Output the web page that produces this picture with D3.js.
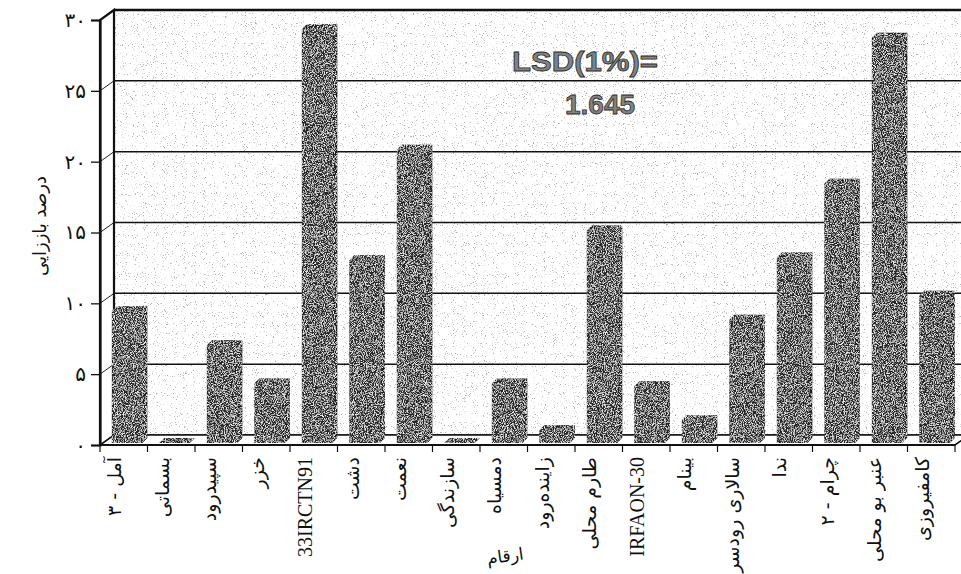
<!DOCTYPE html>
<html>
<head>
<meta charset="utf-8">
<script src="https://cdn.jsdelivr.net/npm/d3@7"></script>
<style>
  body { margin: 0; background: #fff; }
  svg { display: block; }
</style>
</head>
<body>
<svg id="chart" width="961" height="574"></svg>
<script>
// varieties (left to right)
var varieties = ['آمل - ۳', 'بسماتی', 'سپیدرود', 'خزر', '33IRCTN91', 'دشت', 'نعمت', 'سازندگی', 'دمسیاه',
  'زاینده‌رود', 'طارم محلی', 'IRFAON-30', 'بینام', 'سالاری رودسر', 'ندا', 'چرام - ۲', 'عنبر بو محلی', 'کامفیروزی'];

// regeneration percent
var regen = [9.3, 0, 6.9, 4.2, 29.2, 12.9, 20.7, 0, 4.2, 0.9, 15.0, 4.0, 1.6, 8.7, 13.1, 18.3, 28.6, 10.4];

var yTicks = [0, 5, 10, 15, 20, 25, 30];
var yTickLabels = ['۰', '۵', '۱۰', '۱۵', '۲۰', '۲۵', '۳۰'];

var yTitle = 'درصد باززایی';
var xTitle = 'ارقام';
var lsdLine1 = 'LSD(1%)=';
var lsdLine2 = '1.645';

var svg = d3.select('#chart');
var W = 961, H = 574;

// depth of the 3d box (back wall offset)
var dX = 14, dY = -10;
// depth of each bar
var bX = 5, bY = -5;

var x = d3.scaleBand().domain(varieties).range([100, 955]).padding(0);
var y = d3.scaleLinear().domain([0, 30]).range([445, 20]);
var step = x.step();

var defs = svg.append('defs');

// light stipple for the back wall
var stip = defs.append('filter').attr('id', 'stip')
  .attr('x', 0).attr('y', 0).attr('width', 1).attr('height', 1);
stip.append('feTurbulence').attr('type', 'fractalNoise').attr('baseFrequency', 0.9)
  .attr('numOctaves', 2).attr('seed', 7).attr('result', 't');
stip.append('feColorMatrix').attr('in', 't').attr('type', 'matrix')
  .attr('values', '0 0 0 0 0.45  0 0 0 0 0.45  0 0 0 0 0.45  9 0 0 0 -5.75');

// grainy texture for bars
var grain = defs.append('filter').attr('id', 'grain')
  .attr('x', -0.05).attr('y', -0.05).attr('width', 1.1).attr('height', 1.1);
grain.append('feTurbulence').attr('type', 'fractalNoise').attr('baseFrequency', 1.1)
  .attr('numOctaves', 2).attr('seed', 3).attr('result', 't');
grain.append('feColorMatrix').attr('in', 't').attr('type', 'matrix')
  .attr('values', '3.6 0 0 0 -1.6  3.6 0 0 0 -1.6  3.6 0 0 0 -1.6  0 0 0 0 0.85')
  .attr('result', 'g');
grain.append('feComposite').attr('in', 'g').attr('in2', 'SourceAlpha')
  .attr('operator', 'in').attr('result', 'gc');
var mrg = grain.append('feMerge');
mrg.append('feMergeNode').attr('in', 'SourceGraphic');
mrg.append('feMergeNode').attr('in', 'gc');

var x0 = x.range()[0], x1 = x.range()[1];

// back wall
svg.append('rect')
  .attr('x', x0 + dX).attr('y', y(30) + dY)
  .attr('width', W - x0 - dX).attr('height', y(0) - y(30))
  .attr('fill', '#fff');
svg.append('rect')
  .attr('x', x0 + dX).attr('y', y(30) + dY)
  .attr('width', W - x0 - dX).attr('height', y(0) - y(30))
  .attr('fill', '#fff')
  .attr('filter', 'url(#stip)');

// gridlines on back wall + diagonal ones on side wall
var grid = svg.append('g');
grid.selectAll('line.back')
  .data(yTicks)
  .enter()
  .append('line')
  .attr('x1', x0 + dX).attr('x2', W)
  .attr('y1', function(d){ return y(d) + dY; })
  .attr('y2', function(d){ return y(d) + dY; })
  .attr('stroke', '#111')
  .attr('stroke-width', function(d){ return d === 30 ? 2.6 : 1.5; });
grid.selectAll('line.side')
  .data(yTicks)
  .enter()
  .append('line')
  .attr('x1', x0).attr('x2', x0 + dX)
  .attr('y1', function(d){ return y(d); })
  .attr('y2', function(d){ return y(d) + dY; })
  .attr('stroke', '#222')
  .attr('stroke-width', 1);

// side wall outline
svg.append('path')
  .attr('d', 'M' + x0 + ',' + y(0) + 'L' + x0 + ',' + y(30) + 'L' + (x0 + dX) + ',' + (y(30) + dY) +
    'L' + (x0 + dX) + ',' + (y(0) + dY))
  .attr('fill', 'none')
  .attr('stroke', '#111')
  .attr('stroke-width', 2.2);

// floor slab
svg.append('path')
  .attr('d', 'M' + x0 + ',' + y(0) + 'L' + x1 + ',' + y(0) + 'L' + (x1 + dX) + ',' + (y(0) + dY) +
    'L' + (x0 + dX) + ',' + (y(0) + dY) + 'Z')
  .attr('fill', '#fff')
  .attr('stroke', '#111')
  .attr('stroke-width', 1.6);

// bars
var bars = svg.append('g').attr('filter', 'url(#grain)');
var bar = bars.selectAll('g')
  .data(varieties)
  .enter()
  .append('g');

function barLeft(d){ return x(d) + step * 0.25; }
var bw = step * 0.64;
var baseY = y(0) - 2;

// front face
bar.append('rect')
  .attr('x', barLeft)
  .attr('y', function(d, i){ return y(regen[i]) - 2; })
  .attr('width', bw)
  .attr('height', function(d, i){ return Math.max(0, baseY - (y(regen[i]) - 2)); })
  .attr('fill', '#686868');

// side face
bar.append('path')
  .attr('d', function(d, i){
    var l = barLeft(d) + bw, t = y(regen[i]) - 2;
    return 'M' + l + ',' + t + 'L' + (l + bX) + ',' + (t + bY) + 'L' + (l + bX) + ',' + (baseY + bY) +
      'L' + l + ',' + baseY + 'Z';
  })
  .attr('fill', '#525252');

// top face
bar.append('path')
  .attr('d', function(d, i){
    var l = barLeft(d), t = y(regen[i]) - 2;
    return 'M' + l + ',' + t + 'L' + (l + bw) + ',' + t + 'L' + (l + bw + bX) + ',' + (t + bY) +
      'L' + (l + bX) + ',' + (t + bY) + 'Z';
  })
  .attr('fill', '#5c5c5c');

// y axis
var yAxis = svg.append('g')
  .attr('transform', 'translate(' + x0 + ',0)')
  .call(d3.axisLeft(y).tickValues(yTicks).tickSize(9).tickPadding(5)
    .tickFormat(function(d, i){ return yTickLabels[i]; }));
yAxis.select('.domain').attr('stroke', '#111').attr('stroke-width', 2.2);
yAxis.selectAll('.tick line').attr('stroke', '#111').attr('stroke-width', 1.3);
yAxis.selectAll('.tick text')
  .style('font-family', '"DejaVu Sans", sans-serif')
  .style('font-size', '20px')
  .attr('fill', '#111');

// x axis line and tick marks at band edges
svg.append('line')
  .attr('x1', x0).attr('x2', x1)
  .attr('y1', y(0)).attr('y2', y(0))
  .attr('stroke', '#111').attr('stroke-width', 2.2);
var edges = varieties.map(function(d){ return x(d); }).concat([x1]);
svg.selectAll('line.xtick')
  .data(edges)
  .enter()
  .append('line')
  .attr('x1', function(d){ return d; }).attr('x2', function(d){ return d; })
  .attr('y1', y(0)).attr('y2', y(0) + 7)
  .attr('stroke', '#111').attr('stroke-width', 1.2);

// category labels (rotated)
svg.selectAll('text.xlab')
  .data(varieties)
  .enter()
  .append('text')
  .attr('transform', function(d){
    return 'translate(' + (x(d) + step / 2 - 9) + ',' + (y(0) + 12) + ') rotate(-90)';
  })
  .attr('dy', '0.35em')
  .attr('text-anchor', 'end')
  .style('font-family', function(d){
    return /[A-Z]/.test(d) ? '"Liberation Serif", serif' : '"DejaVu Sans", sans-serif';
  })
  .style('font-size', function(d){ return /[A-Z]/.test(d) ? '20px' : '19px'; })
  .attr('fill', '#111')
  .text(function(d){ return d; });

// axis titles
svg.append('text')
  .attr('transform', 'translate(40,226) rotate(-90)')
  .attr('text-anchor', 'middle')
  .attr('dy', '0.35em')
  .style('font-family', '"DejaVu Sans", sans-serif')
  .style('font-size', '18px')
  .attr('fill', '#111')
  .text(yTitle);

svg.append('text')
  .attr('transform', 'translate(506,562) rotate(-8)')
  .attr('text-anchor', 'middle')
  .style('font-family', '"DejaVu Sans", sans-serif')
  .style('font-size', '17px')
  .attr('fill', '#111')
  .text(xTitle);

// LSD annotation
var lsd = svg.append('g')
  .style('font-family', '"Liberation Sans", Arial, sans-serif')
  .style('font-weight', 'bold')
  .style('font-size', '28px')
  .attr('fill', '#828282')
  .attr('stroke', '#2a2a2a')
  .attr('stroke-width', 0.8);
lsd.append('text')
  .attr('x', 512).attr('y', 71)
  .attr('textLength', 146)
  .attr('lengthAdjust', 'spacingAndGlyphs')
  .text(lsdLine1);
lsd.append('text')
  .attr('x', 600).attr('y', 114)
  .attr('text-anchor', 'middle')
  .text(lsdLine2);
</script>
</body>
</html>
